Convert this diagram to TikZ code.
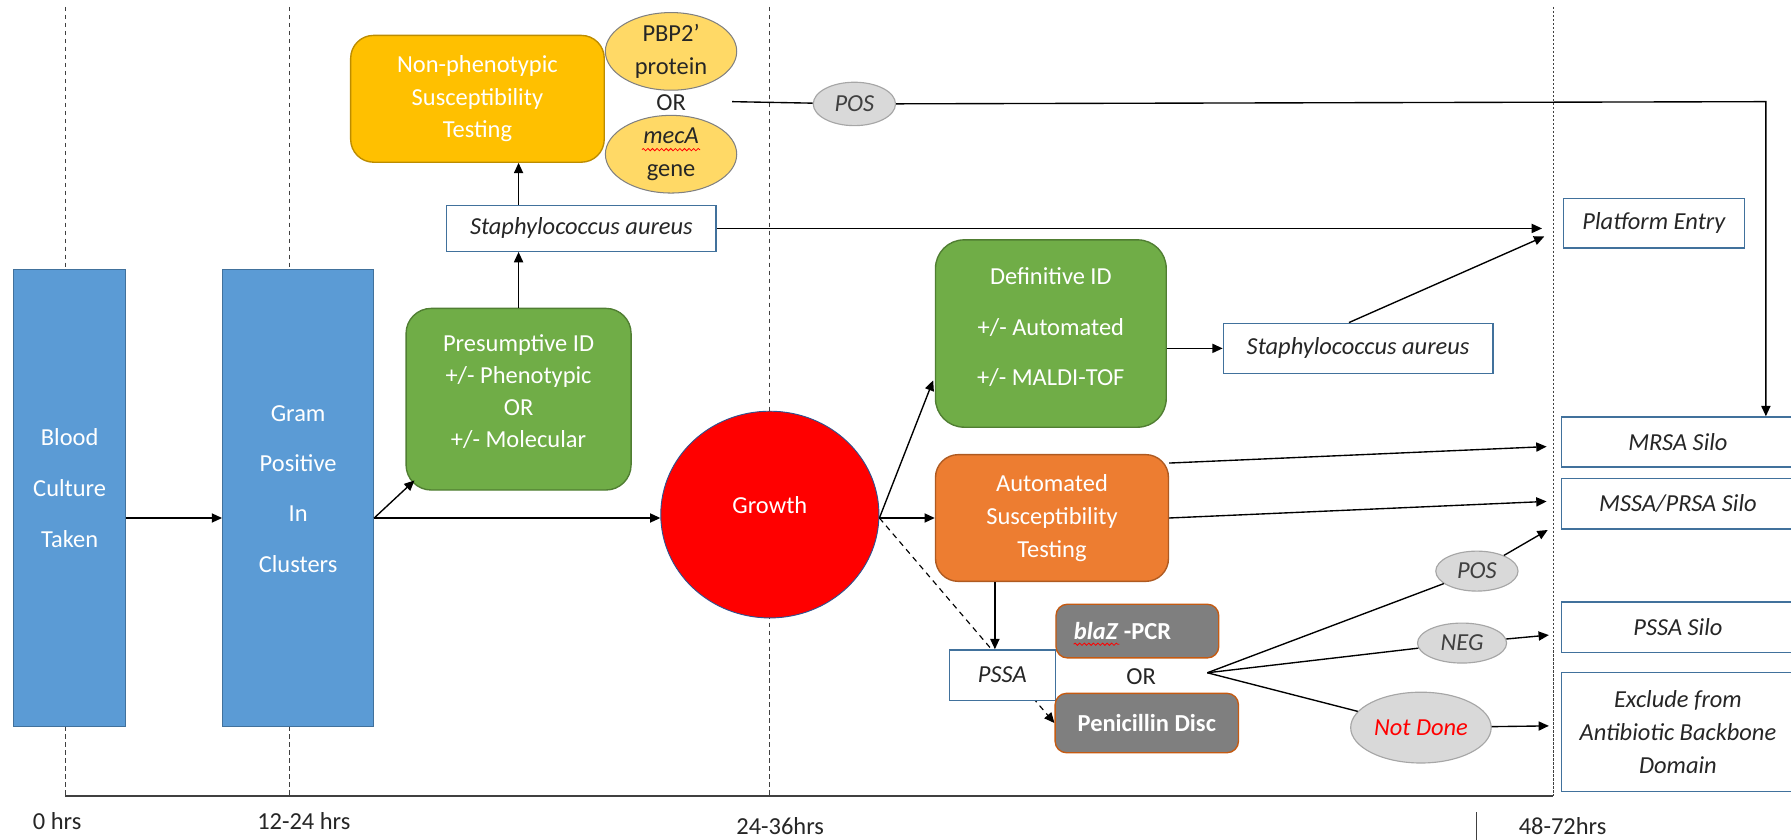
\documentclass[tikz,border=0pt]{standalone}
\usepackage{fontspec}
\setmainfont{Carlito}
\usetikzlibrary{arrows.meta,shapes.geometric,decorations.pathmorphing}
\definecolor{cBlue}{HTML}{5B9BD5}
\definecolor{cBlueD}{HTML}{41719C}
\definecolor{cGreen}{HTML}{70AD47}
\definecolor{cGreenD}{HTML}{507E32}
\definecolor{cGold}{HTML}{FFC000}
\definecolor{cGoldD}{HTML}{BC8C00}
\definecolor{cPale}{HTML}{FFD966}
\definecolor{cOrange}{HTML}{ED7D31}
\definecolor{cOrangeD}{HTML}{AE5A21}
\definecolor{cGrey}{HTML}{7F7F7F}
\definecolor{cGreyB}{HTML}{C55A11}
\definecolor{cLight}{HTML}{D9D9D9}
\definecolor{cLightD}{HTML}{A6A6A6}
\definecolor{cRed}{HTML}{FF0000}
\definecolor{cCircle}{HTML}{2F528F}
\definecolor{cInk}{HTML}{404040}
\newcommand\fsz[1]{\fontsize{21.4}{#1}\selectfont}
\newcommand\dn[1]{\rule[-#1]{0pt}{#1}}
\pgfdeclarelayer{bg}
\pgfsetlayers{bg,main}
\begin{document}
\begin{tikzpicture}[x=1pt,y=-1pt,
  base/.style={draw, line width=1.2pt, inner sep=0pt, align=center, font=\fsz{24}},
  bar/.style={base, rectangle, fill=cBlue, draw=cBlueD, text=white},
  gbox/.style={base, rectangle, rounded corners=22pt, fill=cGreen, draw=cGreenD, text=white},
  wbox/.style={base, rectangle, fill=white, draw=cBlueD, text=black!85, font=\fsz{29}\itshape},
  pale/.style={base, ellipse, fill=cPale, draw=gray, line width=0.9pt, text=black!85},
  greyell/.style={base, ellipse, fill=cLight, draw=cLightD, line width=1pt, text=cInk, font=\fsz{24}\itshape},
  darkbox/.style={base, rectangle, rounded corners=10pt, fill=cGrey, draw=cGreyB, text=white, font=\fsz{24}\bfseries},
  plain/.style={font=\fsz{24}, text=black!85, inner sep=0pt},
  arr/.style={line width=1.2pt, -{Triangle[length=9pt,width=8pt]}},
  ln/.style={line width=1.2pt},
  tl/.style={dash pattern=on 4pt off 3pt, line width=1pt, draw=cInk},
  squig/.style={red, line width=0.7pt, decorate, decoration={snake, amplitude=1pt, segment length=4pt}}
]
\useasboundingbox (0,0) rectangle (1568,735);

% nodes
\node[bar, minimum width=98pt, minimum height=400pt, font=\fsz{44.5}] (blood) at (61,436) {Blood\\Culture\\Taken\dn{17pt}};
\node[bar, minimum width=132pt, minimum height=400pt, font=\fsz{44}] (gram) at (261,436) {Gram\\Positive\\In\\Clusters\dn{16pt}};
\node[gbox, minimum width=197pt, minimum height=159pt, font=\fsz{28}] (presum) at (454,349.5) {Presumptive ID\\+/- Phenotypic\\OR\\+/- Molecular\dn{15pt}};
\node[wbox, minimum width=236pt, minimum height=40pt] (staph1) at (509,200) {Staphylococcus aureus};
\node[base, rectangle, rounded corners=20pt, fill=cGold, draw=cGoldD, text=white, minimum width=222pt, minimum height=111pt, font=\fsz{28.5}] (nonpheno) at (418,86.5) {Non-phenotypic\\Susceptibility\\Testing};
\node[pale, minimum width=115pt, minimum height=68pt, font=\fsz{29.5}] (pbp) at (587.5,45) {PBP2’\\protein};
\node[pale, minimum width=115pt, minimum height=68pt, font=\fsz{29.5}] (meca) at (587.5,135) {\textit{mecA}\\gene};
\node[plain] (or1) at (587.5,90) {OR};
\node[greyell, minimum width=72pt, minimum height=38pt] (pos1) at (748,91) {POS};
\node[wbox, minimum width=158pt, minimum height=43pt] (platform) at (1448,195.5) {Platform Entry};
\node[base, ellipse, fill=cRed, draw=cCircle, line width=0.8pt, text=white, minimum width=191pt, minimum height=181pt] (growth) at (674,450.5) {Growth\dn{17pt}};
\node[gbox, rounded corners=25pt, minimum width=202pt, minimum height=164pt, font=\fsz{44}] (def) at (920,292) {Definitive ID\\+/- Automated\\+/- MALDI-TOF\dn{12pt}};
\node[wbox, minimum width=236pt, minimum height=44pt] (staph2) at (1189,305) {Staphylococcus aureus};
\node[base, rectangle, rounded corners=20pt, fill=cOrange, draw=cOrangeD, text=white, minimum width=204pt, minimum height=111pt, font=\fsz{29}] (ast) at (921,453.5) {Automated\\Susceptibility\\Testing};
\node[wbox, minimum width=204pt, minimum height=44pt] (mrsa) at (1469,387) {MRSA Silo};
\node[wbox, minimum width=204pt, minimum height=44pt] (mssa) at (1469,441) {MSSA/PRSA Silo};
\node[wbox, minimum width=204pt, minimum height=44pt] (pssasilo) at (1469,549) {PSSA Silo};
\node[wbox, minimum width=204pt, minimum height=104pt] (excl) at (1469,641) {Exclude from\\Antibiotic Backbone\\Domain};
\node[wbox, minimum width=93pt, minimum height=44pt] (pssa) at (877.5,591) {PSSA};
\node[darkbox, minimum width=142.5pt, minimum height=47pt] (blaz) at (995.75,552.5) {\textit{blaZ} -PCR\makebox[26pt]{}};
\node[plain] (orB) at (999,592.5) {OR};
\node[darkbox, minimum width=160.5pt, minimum height=52pt] (pen) at (1004,633) {Penicillin Disc};
\node[greyell, minimum width=72pt, minimum height=35pt] (pos2) at (1293,500) {POS};
\node[greyell, minimum width=78pt, minimum height=35pt] (neg) at (1280,563) {NEG};
\node[greyell, minimum width=123pt, minimum height=62pt, text=red] (notdone) at (1244,637) {Not Done};

\node[plain] (t0) at (50,719) {0 hrs};
\node[plain] (t12) at (266,719) {12-24 hrs};
\node[plain] (t24) at (683,723) {24-36hrs};
\node[plain] (t48) at (1368,723) {48-72hrs};

% coordinates
\coordinate (fan) at (1057,589);
\coordinate (tPE1) at (1350,200);
\coordinate (tPE2) at (1352,207);
\coordinate (tMR) at (1354,391);
\coordinate (tMS) at (1354,439);
\coordinate (tP2) at (1355,464);
\coordinate (tNG) at (1356,556);
\coordinate (tND) at (1356,635.5);
\coordinate (corner) at (1546,89);
\coordinate (orR) at (641,89);
\coordinate (defIn) at (817,333);
\coordinate (gout) at ([yshift=-3pt]growth.east);

% background: time lines and dashed connector
\begin{pgfonlayer}{bg}
\draw[tl] (57,6) -- (57,697);
\draw[tl] (253.5,6) -- (253.5,697);
\draw[tl] (674,6) -- (674,697);
\draw[tl, dash pattern=on 2pt off 1.5pt] (1360,6) -- (1360,697);
\draw[line width=1.5pt, cInk] (57,697) -- (1360,697);
\draw[line width=1pt, cInk] (1293,711) -- (1293,735);
\draw[arr, line width=1pt, dash pattern=on 5pt off 4pt] (gout) -- (pen.west);
\end{pgfonlayer}

% connectors
\draw[arr] (blood.east |- gout) -- (gram.west |- gout);
\draw[arr] (gram.east |- gout) -- (growth.west |- gout);
\draw[arr] (gram.east |- gout) -- ([xshift=8pt,yshift=9pt]presum.south west);
\draw[arr] (presum.north) -- (presum.north |- staph1.south);
\draw[arr] (presum.north |- staph1.north) -- (presum.north |- nonpheno.south);
\draw[arr] (staph1.east) -- (tPE1);
\draw[ln] (orR) -- (pos1);
\draw[arr] (pos1) -- (corner) -- (corner |- mrsa.north);
\draw[arr] (gout) -- (defIn);
\draw[arr] (def.east |- staph2.west) -- (staph2.west);
\draw[arr] ([xshift=-8pt]staph2.north) -- (tPE2);
\draw[arr] (gout) -- (ast.west |- gout);
\draw[arr] ([yshift=-8pt]ast.north east) -- (tMR);
\draw[arr] (ast.east) -- (tMS);
\draw[arr] ([xshift=-50pt]ast.south) -- ([xshift=-50pt]ast.south |- pssa.north);
\draw[ln] (fan) -- (pos2);
\draw[ln] (fan) -- (neg);
\draw[ln] (fan) -- (notdone);
\draw[arr] (pos2) -- (tP2);
\draw[arr] (neg) -- (tNG);
\draw[arr] (notdone) -- (tND);

% spell-check squiggles
\draw[squig] (562,131) -- (613,131);
\draw[squig] (940,564) -- (980,564);
\end{tikzpicture}
\end{document}
